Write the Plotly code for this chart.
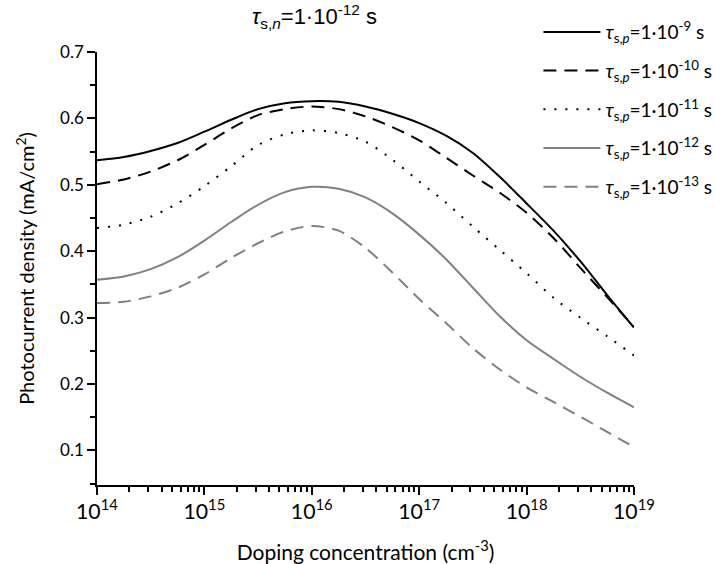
import plotly.graph_objects as go

# log10 of doping concentration (cm^-3)
log_doping = [14, 14.25, 14.5, 14.75, 15, 15.25, 15.5, 15.75, 16, 16.25, 16.5,
              16.75, 17, 17.25, 17.5, 17.75, 18, 18.25, 18.5, 18.75, 19]

j_sp_1e9 = [0.537, 0.542, 0.551, 0.563, 0.580, 0.598, 0.614, 0.623, 0.626, 0.625, 0.618,
            0.607, 0.593, 0.574, 0.548, 0.512, 0.472, 0.431, 0.385, 0.334, 0.285]
j_sp_1e10 = [0.501, 0.508, 0.520, 0.537, 0.560, 0.585, 0.605, 0.614, 0.618, 0.614, 0.603,
             0.587, 0.567, 0.541, 0.514, 0.488, 0.458, 0.420, 0.375, 0.331, 0.286]
j_sp_1e11 = [0.435, 0.440, 0.452, 0.472, 0.498, 0.528, 0.560, 0.576, 0.582, 0.578, 0.565,
             0.538, 0.505, 0.473, 0.437, 0.402, 0.367, 0.330, 0.300, 0.272, 0.243]
j_sp_1e12 = [0.357, 0.362, 0.373, 0.391, 0.416, 0.444, 0.470, 0.489, 0.497, 0.494, 0.481,
             0.457, 0.425, 0.388, 0.345, 0.302, 0.266, 0.238, 0.211, 0.187, 0.165]
j_sp_1e13 = [0.322, 0.324, 0.332, 0.345, 0.365, 0.390, 0.412, 0.430, 0.438, 0.431, 0.405,
             0.368, 0.328, 0.292, 0.254, 0.222, 0.195, 0.173, 0.151, 0.128, 0.105]

series_names = [
    "<i>τ</i><sub>s,<i>p</i></sub>=1·10<sup>-9</sup> s",
    "<i>τ</i><sub>s,<i>p</i></sub>=1·10<sup>-10</sup> s",
    "<i>τ</i><sub>s,<i>p</i></sub>=1·10<sup>-11</sup> s",
    "<i>τ</i><sub>s,<i>p</i></sub>=1·10<sup>-12</sup> s",
    "<i>τ</i><sub>s,<i>p</i></sub>=1·10<sup>-13</sup> s",
]
series_values = [j_sp_1e9, j_sp_1e10, j_sp_1e11, j_sp_1e12, j_sp_1e13]
series_colors = ["#000000", "#000000", "#000000", "#808080", "#808080"]
series_dash = ["solid", "13px,8px", "2px,9px", "solid", "13px,8px"]

doping = [10 ** v for v in log_doping]

fig = go.Figure()
for i, (name, vals, col, dash) in enumerate(zip(series_names, series_values, series_colors, series_dash)):
    fig.add_trace(go.Scatter(
        x=doping, y=vals, mode="lines", name=name, legendgroup=f"g{i}",
        line=dict(color=col, width=2, dash=dash, shape="spline", smoothing=0.8),
    ))

font_main = "Lato, 'Open Sans', sans-serif"

fig.update_layout(
    width=715, height=564,
    margin=dict(l=97, r=81, t=52, b=79, autoexpand=False),
    paper_bgcolor="white", plot_bgcolor="white",
    font=dict(family=font_main, color="black", size=17),
    showlegend=True,
    legend=dict(
        x=0.822, y=1.09, xanchor="left", yanchor="top",
        font=dict(size=19, family=font_main),
        itemwidth=57, tracegroupgap=11, traceorder="grouped",
        bgcolor="rgba(0,0,0,0)",
    ),
    xaxis=dict(
        type="log", range=[14, 19], dtick=1, exponentformat="power",
        showline=True, linecolor="black", linewidth=1.5, showgrid=False, zeroline=False,
        ticks="outside", ticklen=8, tickwidth=1.5, tickcolor="black",
        tickfont=dict(size=17),
        minor=dict(ticks="outside", ticklen=5, tickwidth=1.5, tickcolor="black", dtick="D1", showgrid=False),
        title=dict(text="Doping concentration (cm<sup>-3</sup>)", font=dict(size=21), standoff=22),
    ),
    yaxis=dict(
        range=[0.048, 0.7], tick0=0.1, dtick=0.1, tickformat=".1f",
        showline=True, linecolor="black", linewidth=1.5, showgrid=False, zeroline=False,
        ticks="outside", ticklen=8, tickwidth=1.5, tickcolor="black",
        tickfont=dict(size=17),
        minor=dict(ticks="outside", ticklen=5, tickwidth=1.5, tickcolor="black", tick0=0.05, dtick=0.1, showgrid=False),
        title=dict(text="Photocurrent density (mA/cm<sup>2</sup>)", font=dict(size=20), standoff=20),
    ),
    annotations=[dict(
        text="<i>τ</i><sub>s,<i>n</i></sub>=1·10<sup>-12</sup> s",
        xref="paper", yref="paper", x=(250 - 97) / 537, y=1.0, yshift=36,
        xanchor="left", yanchor="middle", showarrow=False,
        font=dict(size=22, family="'Liberation Sans', Arial, sans-serif"),
    )],
)

fig.write_html("out.html")
